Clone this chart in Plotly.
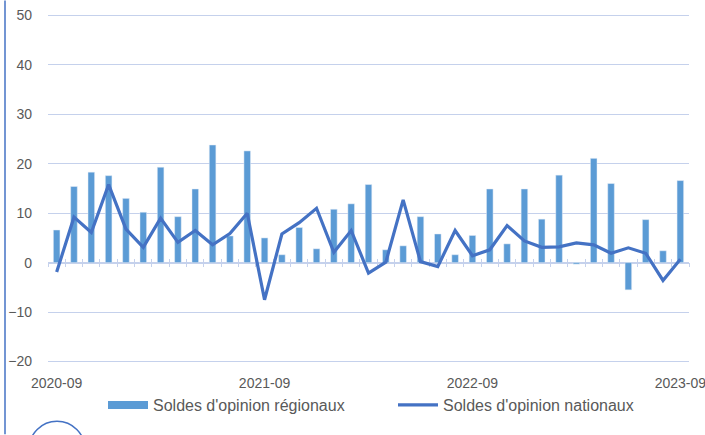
import plotly.graph_objects as go
import pandas as pd

months = list(pd.period_range("2020-09", "2023-09", freq="M").strftime("%Y-%m"))
label_months = ["2020-09", "2021-09", "2022-09", "2023-09"]

regional = [6.6, 15.4, 18.3, 17.6, 13.0, 10.2, 19.3, 9.3, 14.9, 23.8, 5.4, 22.6,
            5.0, 1.6, 7.1, 2.8, 10.8, 11.9, 15.8, 2.6, 3.4, 9.3, 5.8, 1.6,
            5.5, 14.9, 3.8, 14.9, 8.8, 17.7, -0.3, 21.1, 16.0, -5.5, 8.7, 2.4, 16.6]
national = [-1.9, 9.2, 6.1, 15.8, 6.8, 3.1, 9.0, 4.1, 6.5, 3.6, 5.9, 10.0,
            -7.5, 5.8, 8.1, 11.0, 2.1, 6.5, -2.1, 0.1, 12.7, 0.2, -0.8, 6.5,
            1.4, 2.6, 7.5, 4.4, 3.1, 3.2, 4.0, 3.6, 1.9, 3.0, 1.9, -3.6, 0.7]

y_range = [-20.3, 50.3]
y_ticks = [-20, -10, 0, 10, 20, 30, 40, 50]

W, H = 705, 435
ML, MR, MT, MB = 48, 16, 13.5, 71.5
PW, PH = W - ML - MR, H - MT - MB

def px_x(px):
    return (px - ML) / PW

def px_y(py):
    return (H - MB - py) / PH

FONT = "Liberation Sans, Arial, sans-serif"
GRAY = "#595959"
GRID = "#c5d1ec"
BAR = "#5b9bd5"
LINE = "#4472c4"
NAME_REG = "Soldes d'opinion régionaux"
NAME_NAT = "Soldes d'opinion nationaux"

zero_pos = (0 - y_range[0]) / (y_range[1] - y_range[0])

fig = go.Figure()
fig.add_trace(go.Bar(x=months, y=regional, name=NAME_REG, legendgroup="reg",
                     showlegend=False, marker_color=BAR, width=0.38,
                     xaxis="x", yaxis="y"))
# legend proxy for the bar series (wide flat swatch like the original)
fig.add_trace(go.Scatter(x=months[:1], y=[None], name=NAME_REG, legendgroup="reg",
                         mode="lines", line=dict(color=BAR, width=8),
                         hoverinfo="skip", xaxis="x", yaxis="y"))
fig.add_trace(go.Scatter(x=months, y=national, name=NAME_NAT,
                         mode="lines", line=dict(color=LINE, width=3.2),
                         xaxis="x2", yaxis="y"))
fig.add_trace(go.Scatter(x=months, y=[None] * len(months), mode="lines",
                         showlegend=False, hoverinfo="skip", xaxis="x3", yaxis="y"))

cat_common = dict(type="category", categoryorder="array", categoryarray=months,
                  range=[-0.5, len(months) - 0.5], showgrid=False, zeroline=False,
                  automargin=False)

fig.update_layout(
    width=W, height=H,
    margin=dict(l=ML, r=MR, t=MT, b=MB, autoexpand=False),
    paper_bgcolor="white", plot_bgcolor="white",
    font=dict(family=FONT, size=14, color=GRAY),
    xaxis=dict(**cat_common, tickmode="array", tickvals=label_months,
               ticktext=label_months, ticks="", showline=False,
               ticklabelstandoff=10, tickfont=dict(size=14, color=GRAY)),
    xaxis2=dict(**cat_common, overlaying="x", anchor="free", position=zero_pos,
                showline=True, linecolor=GRID, linewidth=1.5,
                ticks="outside", tickson="boundaries", ticklen=4, tickwidth=1.3,
                tickcolor=GRID, showticklabels=False, layer="below traces"),
    xaxis3=dict(**cat_common, overlaying="x", anchor="free", position=zero_pos,
                showline=False,
                ticks="inside", tickson="boundaries", ticklen=4, tickwidth=1.3,
                tickcolor=GRID, showticklabels=False, layer="below traces"),
    yaxis=dict(range=y_range, tickvals=y_ticks, showgrid=True, gridcolor=GRID,
               gridwidth=1.3, zeroline=False, showline=False, ticks="",
               automargin=False,
               ticklabelstandoff=15, tickfont=dict(size=14, color=GRAY)),
    legend=dict(orientation="h", xref="container", yref="container",
                x=103 / W, xanchor="left", y=1 - 388 / H, yanchor="top",
                font=dict(size=16, color=GRAY), itemwidth=40,
                entrywidth=235, bgcolor="rgba(0,0,0,0)"),
    showlegend=True,
    shapes=[
        dict(type="line", xref="paper", yref="paper", x0=px_x(5), x1=px_x(5),
             y0=px_y(0), y1=px_y(H), line=dict(color=LINE, width=1.5)),
        dict(type="circle", xref="paper", yref="paper", x0=px_x(29), x1=px_x(85),
             y0=px_y(478), y1=px_y(422), line=dict(color=LINE, width=1.5)),
    ],
)

fig.write_html("out.html", post_script="document.body.style.margin='0';",
               config={"displayModeBar": False})
